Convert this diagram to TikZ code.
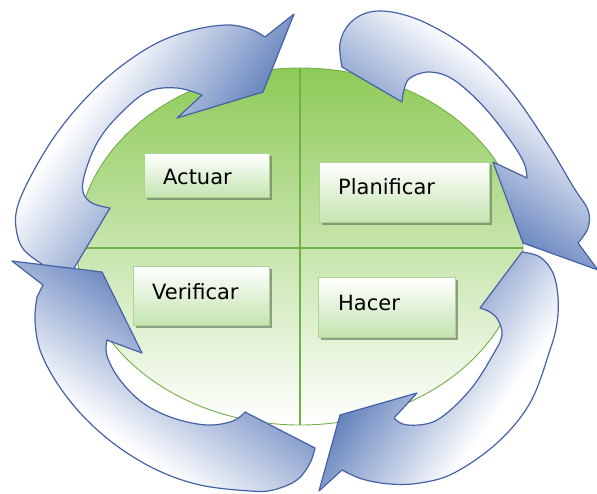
\documentclass[tikz,border=0pt]{standalone}
\usepackage{fontspec}
\setmainfont{DejaVu Sans}
\usetikzlibrary{shadows,shapes.geometric}

\definecolor{ellgreen}{RGB}{142,202,88}
\definecolor{linegreen}{RGB}{112,176,72}
\definecolor{boxgreen}{RGB}{196,228,176}
\definecolor{boxedge}{RGB}{170,214,145}
\definecolor{shadowgray}{RGB}{115,130,105}
\definecolor{arrowblue}{RGB}{98,128,188}
\definecolor{arrowedge}{RGB}{68,98,165}

% white-to-blue fade for the cycle arrows
\pgfdeclarehorizontalshading{arrowfade}{100bp}{color(0bp)=(white); color(35bp)=(white); color(62bp)=(arrowblue); color(100bp)=(arrowblue)}

\tikzset{
  cyclearrow/.style={draw=arrowedge, line width=1.2pt, line join=round, shade, shading=arrowfade},
  stagebox/.style={draw=boxedge, line width=0.9pt, top color=white, bottom color=boxgreen,
    inner sep=0pt, anchor=north west,
    drop shadow={shadow xshift=3pt, shadow yshift=-3pt, fill=shadowgray, opacity=0.75}},
  stagelabel/.style={anchor=west, inner sep=0pt, font=\fontsize{21}{21}\selectfont,
    text height=15.5pt, text depth=0pt},
  quadline/.style={draw=linegreen, line width=1.4pt}
}

\begin{document}
\begin{tikzpicture}[x=1pt, y=-1pt]
\useasboundingbox (0,0) rectangle (597,493);

% green disc split into four quadrants
\node[draw=linegreen, line width=0.9pt, top color=ellgreen, bottom color=white,
  ellipse, minimum width=446pt, minimum height=357pt, inner sep=0pt] (disc) at (300,246.5) {};
\draw[quadline] (disc.north) -- (disc.south);
\draw[quadline] (77,248) coordinate (w) -- (523,248) coordinate (e);

% stage boxes
\node[stagebox, minimum width=125pt, minimum height=44pt] (actuar) at (144,153) {};
\node[stagebox, minimum width=170pt, minimum height=60pt] (planificar) at (319,162) {};
\node[stagebox, minimum width=136pt, minimum height=59pt] (verificar) at (133,266) {};
\node[stagebox, minimum width=137pt, minimum height=60pt] (hacer) at (318,277) {};

\node[stagelabel] (actuar-t) at (163,177) {Actuar};
\node[stagelabel] (planificar-t) at (338,186.5) {Planificar};
\node[stagelabel] (verificar-t) at (152,291.5) {Verificar};
\node[stagelabel] (hacer-t) at (338,302.5) {Hacer};

% top-left arrow (left -> top)
\draw[cyclearrow, shading angle=-35] (70,275) -- plot[smooth, tension=.6] coordinates {(48,268) (24,250) (16,228) (18,205) (33,172) (57,133) (87,97) (120,67) (157,43) (193,30) (227,25) (250,29) (265,37)}
  -- (294,14) -- (263,92) -- (177,118)
  -- plot[smooth, tension=.6] coordinates {(202,95) (177,88) (147,92) (117,117) (97,143) (85,173) (83,192) (92,203) (110,208)} -- cycle;

% top-right arrow (top -> right)
\draw[cyclearrow, shading angle=-125] (402,102) -- plot[smooth, tension=.6] coordinates {(342,67) (340,43) (350,23) (370,12) (397,13) (430,25) (470,50) (510,90) (547,143) (574,188) (588,210) (588,228) (578,243)}
  -- (598,270) -- (523,243) -- (493,162)
  -- plot[smooth, tension=.6] coordinates {(527,178) (524,163) (510,140) (484,107) (454,80) (430,72) (410,78) (404,90) (402,102)} -- cycle;

% bottom-right arrow (right -> bottom)
\draw[cyclearrow, shading angle=145] (480,308) -- plot[smooth, tension=.6] coordinates {(522,252) (540,257) (553,273) (558,297) (557,323) (550,350) (530,403) (497,443) (454,473) (420,483) (390,484) (362,479) (342,470)}
  -- (319,491) -- (340,415) -- (417,393)
  -- plot[smooth, tension=.6] coordinates {(394,418) (407,425) (437,420) (470,390) (494,353) (502,335) (498,320) (490,312) (480,308)} -- cycle;

% bottom-left arrow (bottom -> left)
\draw[cyclearrow, shading angle=55] (245,412) -- plot[smooth, tension=.6] coordinates {(315,448) (310,463) (297,480) (273,490) (250,491) (200,485) (157,470) (117,446) (83,416) (57,383) (40,350) (35,320) (37,297)}
  -- (43,285) -- (12,261) -- (102,272) -- (142,353)
  -- plot[smooth, tension=.6] coordinates {(107,340) (107,356) (120,380) (143,403) (173,418) (207,425) (233,421) (245,412)} -- cycle;
\end{tikzpicture}
\end{document}
